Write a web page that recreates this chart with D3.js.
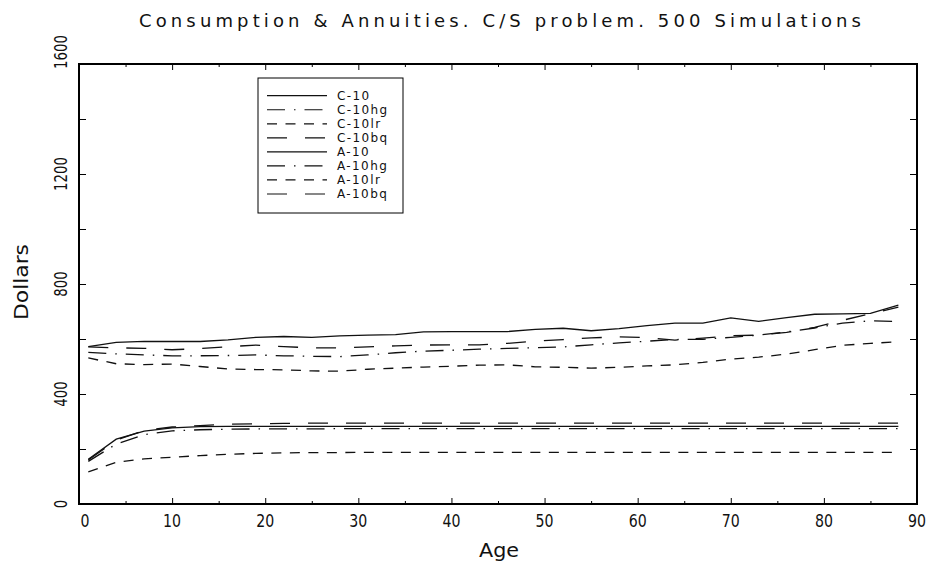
<!DOCTYPE html>
<html>
<head>
<meta charset="utf-8">
<script src="https://cdn.jsdelivr.net/npm/d3@7"></script>
<style>
  body { margin: 0; background: #fff; }
  text { font-family: "DejaVu Sans", sans-serif; fill: #111; }
</style>
</head>
<body>
<div id="chart"></div>
<script>
// ages where the simulation was sampled
const ages = [1, 4, 7, 10, 13, 16, 19, 22, 25, 28, 31, 34, 37, 40, 43, 46, 49, 52, 55, 58, 61, 64, 67, 70, 73, 76, 79, 82, 85, 88];

// consumption paths
const c10   = [572, 588, 591, 591, 591, 597, 606, 609, 606, 611, 614, 616, 626, 627, 627, 627, 635, 639, 630, 638, 649, 658, 658, 677, 664, 678, 690, 691, 693, 723];
const c10hg = [551, 546, 542, 539, 539, 540, 542, 539, 537, 536, 542, 550, 556, 559, 563, 566, 568, 571, 579, 586, 592, 598, 599, 606, 614, 626, 640, 658, 666, 664];
const c10lr = [531, 510, 507, 509, 500, 491, 489, 488, 484, 483, 490, 494, 498, 501, 505, 506, 499, 497, 494, 497, 502, 506, 515, 527, 534, 545, 561, 577, 584, 590];
const c10bq = [571, 568, 566, 561, 565, 572, 578, 572, 568, 568, 571, 575, 578, 579, 579, 584, 592, 598, 604, 608, 605, 596, 603, 612, 614, 624, 642, 668, 692, 716];

// annuity paths
const a10   = [163, 236, 265, 277, 281, 282, 282, 282, 282, 282, 282, 282, 282, 282, 282, 282, 282, 282, 282, 282, 282, 282, 282, 282, 282, 282, 282, 282, 282, 282];
const a10hg = [155, 218, 252, 266, 270, 272, 273, 273, 273, 274, 274, 274, 274, 274, 274, 274, 274, 274, 274, 274, 274, 274, 274, 274, 274, 274, 274, 274, 274, 274];
const a10lr = [117, 152, 164, 170, 176, 181, 184, 186, 187, 187, 188, 188, 188, 188, 188, 188, 188, 188, 188, 188, 188, 188, 188, 188, 188, 188, 188, 188, 188, 188];
const a10bq = [160, 232, 268, 280, 285, 290, 292, 293, 294, 294, 294, 294, 294, 294, 294, 294, 294, 294, 294, 294, 294, 294, 294, 294, 294, 294, 294, 294, 294, 294];

const seriesNames = ["C-10", "C-10hg", "C-10lr", "C-10bq", "A-10", "A-10hg", "A-10lr", "A-10bq"];
const seriesValues = [c10, c10hg, c10lr, c10bq, a10, a10hg, a10lr, a10bq];

const xTicks = [0, 10, 20, 30, 40, 50, 60, 70, 80, 90];
const xMinorTicks = [5, 15, 25, 35, 45, 55, 65, 75, 85];
const yTicks = [0, 400, 800, 1200, 1600];
const yAllTicks = [0, 200, 400, 600, 800, 1000, 1200, 1400, 1600];

// line style by suffix
const dashes = { "": null, hg: "18,9,1.5,9", lr: "10,8.5", bq: "20,18" };

(function () {
    const W = 933, H = 567;
    const plotL = 79, plotR = 917, plotT = 64, plotB = 504;

    const svg = d3.select("#chart").append("svg")
        .attr("width", W)
        .attr("height", H);

    svg.append("rect").attr("width", W).attr("height", H).attr("fill", "#fff");

    const x = d3.scaleLinear().domain([0, 90]).range([plotL, plotR]);
    const y = d3.scaleLinear().domain([0, 1600]).range([plotB, plotT]);

    // ticks on all four sides, pointing inward
    function tickStyle(g) {
        g.select(".domain").remove();
        g.selectAll(".tick line").attr("stroke", "#000").attr("stroke-width", 1);
        g.selectAll(".tick text").remove();
    }

    svg.append("g").attr("transform", `translate(0,${plotB})`)
        .call(d3.axisBottom(x).tickValues(xTicks).tickSize(-6)).call(tickStyle);
    svg.append("g").attr("transform", `translate(0,${plotB})`)
        .call(d3.axisBottom(x).tickValues(xMinorTicks).tickSize(-3)).call(tickStyle);
    svg.append("g").attr("transform", `translate(0,${plotT})`)
        .call(d3.axisTop(x).tickValues(xTicks).tickSize(-6)).call(tickStyle);
    svg.append("g").attr("transform", `translate(0,${plotT})`)
        .call(d3.axisTop(x).tickValues(xMinorTicks).tickSize(-3)).call(tickStyle);
    svg.append("g").attr("transform", `translate(${plotL},0)`)
        .call(d3.axisLeft(y).tickValues(yAllTicks).tickSize(-7)).call(tickStyle);
    svg.append("g").attr("transform", `translate(${plotR},0)`)
        .call(d3.axisRight(y).tickValues(yAllTicks).tickSize(-7)).call(tickStyle);

    // frame
    svg.append("rect")
        .attr("x", plotL).attr("y", plotT)
        .attr("width", plotR - plotL).attr("height", plotB - plotT)
        .attr("fill", "none").attr("stroke", "#000").attr("stroke-width", 2);

    // tick labels
    svg.append("g").selectAll("text")
        .data(xTicks)
        .enter().append("text")
        .attr("x", d => x(d) + (d === 0 ? 6 : 0))
        .attr("y", 527)
        .attr("text-anchor", "middle")
        .attr("font-size", 18)
        .attr("textLength", d => String(d).length * 9)
        .attr("lengthAdjust", "spacingAndGlyphs")
        .text(d => d);

    svg.append("g").selectAll("text")
        .data(yTicks)
        .enter().append("text")
        .attr("transform", d => `translate(67,${y(d) - (d === 1600 ? 12 : 0)}) rotate(-90)`)
        .attr("text-anchor", "middle")
        .attr("font-size", 18)
        .attr("textLength", d => String(d).length * 8.5)
        .attr("lengthAdjust", "spacingAndGlyphs")
        .text(d => d);

    // titles
    svg.append("text")
        .attr("x", 500).attr("y", 27)
        .attr("text-anchor", "middle")
        .attr("font-size", 18)
        .attr("textLength", 722)
        .attr("lengthAdjust", "spacing")
        .text("Consumption & Annuities. C/S problem. 500 Simulations");

    svg.append("text")
        .attr("x", 499).attr("y", 557)
        .attr("text-anchor", "middle")
        .attr("font-size", 19)
        .attr("textLength", 40)
        .attr("lengthAdjust", "spacingAndGlyphs")
        .text("Age");

    svg.append("text")
        .attr("transform", "translate(28,282) rotate(-90)")
        .attr("text-anchor", "middle")
        .attr("font-size", 19)
        .attr("textLength", 76)
        .attr("lengthAdjust", "spacingAndGlyphs")
        .text("Dollars");

    // series lines
    const line = d3.line()
        .x((d, i) => x(ages[i]))
        .y(d => y(d));

    const suffix = name => name.replace(/^[CA]-10/, "");

    svg.append("g").selectAll("path")
        .data(seriesValues)
        .enter().append("path")
        .attr("d", line)
        .attr("fill", "none")
        .attr("stroke", "#111")
        .attr("stroke-width", 1.3)
        .attr("stroke-dasharray", (d, i) => dashes[suffix(seriesNames[i])]);

    // legend
    const legend = svg.append("g");
    legend.append("rect")
        .attr("x", 258).attr("y", 78)
        .attr("width", 145).attr("height", 135)
        .attr("fill", "#fff").attr("stroke", "#000").attr("stroke-width", 1);

    const rows = legend.selectAll("g.row")
        .data(seriesNames)
        .enter().append("g")
        .attr("class", "row")
        .attr("transform", (d, i) => `translate(0,${95.7 + i * 14.04})`);

    rows.append("line")
        .attr("x1", 267).attr("x2", 327)
        .attr("stroke", "#111").attr("stroke-width", 1.2)
        .attr("stroke-dasharray", d => dashes[suffix(d)]);

    rows.append("text")
        .attr("x", 337).attr("dy", "0.36em")
        .attr("font-size", 12)
        .attr("letter-spacing", 1.4)
        .text(d => d);
})();
</script>
</body>
</html>
